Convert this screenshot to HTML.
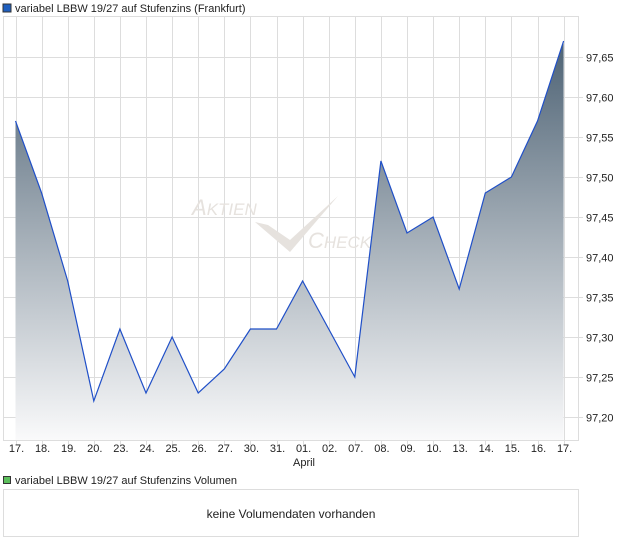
<!DOCTYPE html>
<html><head><meta charset="utf-8"><style>
html,body{margin:0;padding:0;background:#fff;width:620px;height:546px;overflow:hidden}
svg{display:block;font-family:"Liberation Sans",sans-serif}
</style></head><body>
<svg width="620" height="546" viewBox="0 0 620 546">
<defs>
<linearGradient id="g" gradientUnits="userSpaceOnUse" x1="0" y1="41" x2="0" y2="441">
<stop offset="0" stop-color="#4d6274"/>
<stop offset="0.5" stop-color="#a6b0b9"/>
<stop offset="1" stop-color="#fafafb"/>
</linearGradient>
</defs>
<rect x="3" y="4" width="8" height="8" fill="#1f5fbf" stroke="#333" stroke-width="1"/>
<text x="15" y="12" font-size="11" fill="#222">variabel LBBW 19/27 auf Stufenzins (Frankfurt)</text>
<rect x="3.5" y="16.5" width="575" height="424" fill="#fff" stroke="#ddd"/>
<g stroke="#ddd" stroke-width="1" id="grid"></g>
<g id="wm" fill="#e6e2de" font-style="italic">
<text x="192" y="215" font-size="22">A<tspan font-size="17">KTIEN</tspan></text>
<text x="308" y="248" font-size="22">C<tspan font-size="17">HECK</tspan></text>
<path d="M255 222 L290 252 L338 196 L290 240 L268 225 Z"/>
</g>
<path id="area" fill="url(#g)"/>
<path id="line" fill="none" stroke="#1f4fc8" stroke-width="1.2"/>
<g id="xl" font-size="11" fill="#222" text-anchor="middle"></g>
<g id="yl" font-size="11" fill="#222"></g>
<text x="304" y="466" font-size="11" fill="#222" text-anchor="middle">April</text>
<rect x="3.5" y="476.5" width="7" height="7" fill="#5cbf5c" stroke="#333" stroke-width="1"/>
<text x="15" y="484" font-size="11" fill="#222">variabel LBBW 19/27 auf Stufenzins Volumen</text>
<rect x="3.5" y="489.5" width="575" height="47" fill="#fff" stroke="#ddd"/>
<text x="291" y="518" font-size="12" fill="#222" text-anchor="middle">keine Volumendaten vorhanden</text>
</svg>
<script>
var d=[97.57,97.48,97.37,97.22,97.31,97.23,97.30,97.23,97.26,97.31,97.31,97.37,97.31,97.25,97.52,97.43,97.45,97.36,97.48,97.50,97.57,97.67];
var lab=["17.","18.","19.","20.","23.","24.","25.","26.","27.","30.","31.","01.","02.","07.","08.","09.","10.","13.","14.","15.","16.","17."];
var X=i=>15.5+i*26.1, Y=v=>57+(97.65-v)*800;
var ns="http://www.w3.org/2000/svg";
function el(t,a,p,tx){var e=document.createElementNS(ns,t);for(var k in a)e.setAttribute(k,a[k]);if(tx)e.textContent=tx;document.getElementById(p).appendChild(e);}
for(var i=0;i<22;i++){var x=Math.round(X(i))+0.5;el("line",{x1:x,y1:17,x2:x,y2:445},"grid");el("text",{x:X(i)+1,y:452},"xl",lab[i]);}
for(var k=0;k<10;k++){var v=97.65-k*0.05,y=Math.round(Y(v))+0.5;el("line",{x1:4,y1:y,x2:583,y2:y},"grid");el("text",{x:586,y:y+4},"yl",v.toFixed(2).replace(".",","));}
var p="";d.forEach((v,i)=>p+=(i?"L":"M")+X(i).toFixed(1)+" "+Y(v).toFixed(1));
document.getElementById("line").setAttribute("d",p);
document.getElementById("area").setAttribute("d",p+"L"+X(21)+" 440L"+X(0)+" 440Z");
</script>
</body></html>
